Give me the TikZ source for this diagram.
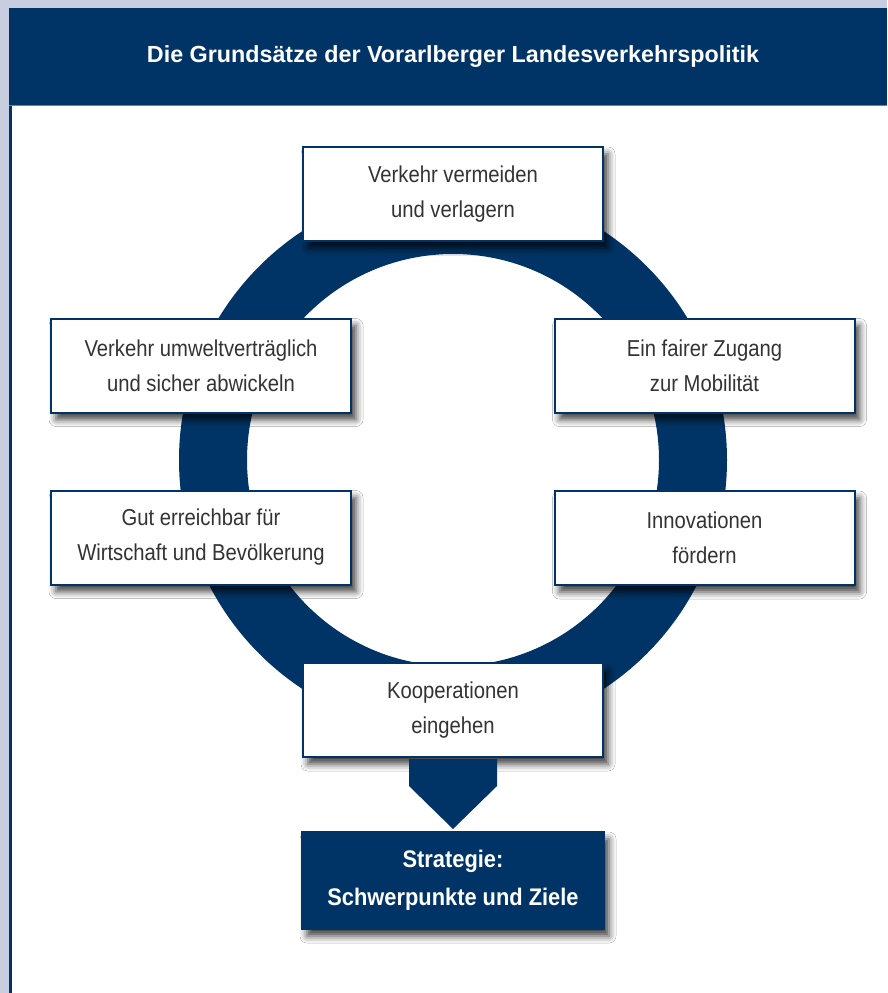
\documentclass[tikz,border=0pt]{standalone}
\usepackage{fontspec}
\setmainfont{Liberation Sans}
\newfontfamily\boxfont{Liberation Sans}[FakeStretch=0.88]
\newfontfamily\stratfont{Liberation Sans}[FakeStretch=0.91]
\usetikzlibrary{shadows.blur,calc}
\definecolor{navy}{RGB}{0,52,102}
\definecolor{frame}{RGB}{200,206,224}
\definecolor{txt}{RGB}{51,51,51}
\tikzset{
  box/.style={draw=navy, line width=2pt, fill=white, minimum width=300pt, minimum height=94pt,
    align=center, text=txt, font=\boxfont\fontsize{23}{35}\selectfont, inner sep=0pt,
    blur shadow={shadow xshift=5pt, shadow yshift=-7pt, shadow blur radius=7pt, shadow opacity=75}},
  darkbox/.style={box, fill=navy, text=white, font=\stratfont\bfseries\fontsize{24}{38}\selectfont, minimum width=302pt, minimum height=97pt},
}
\begin{document}
\begin{tikzpicture}[x=1pt,y=-1pt]
\useasboundingbox (0,0) rectangle (887,993);
\fill[frame] (0,0) rectangle (887,993);
\fill[navy] (9,8) rectangle (887,105);
\fill[white] (9,105) rectangle (887,993);
\fill[navy] (9,105) rectangle (12,993);
\draw[navy!60!white, line width=1pt] (9,105) -- (887,105);
\node[text=white, font=\bfseries\fontsize{23.3}{28}\selectfont] (title) at (453,57) {Die Grundsätze der Vorarlberger Landesverkehrspolitik};

\coordinate (c) at (453,460);
\fill[navy, even odd rule] (c) circle (274pt) (c) circle (206pt);

\node[box] (vermeiden) at (453,194) {Verkehr vermeiden\\und verlagern};
\node[box] (umwelt) at (201,365.5) {Verkehr umweltverträglich\\und sicher abwickeln};
\node[box] (zugang) at (704.5,365.5) {Ein fairer Zugang\\zur Mobilität};
\node[box] (erreichbar) at (201,537.5) {Gut erreichbar für\\Wirtschaft und Bevölkerung};
\node[box] (innovation) at (704.5,538) {Innovationen\\fördern};
\node[box] (koop) at (453,710) {Kooperationen\\eingehen};
\node[darkbox] (strat) at (453,880.5) {Strategie:\\Schwerpunkte und Ziele};

\fill[navy] ($(koop.south)+(-44,1)$) -- ($(koop.south)+(44,1)$) -- ($(koop.south)+(44,28)$)
  -- ($(strat.north)+(0,-2)$) -- ($(koop.south)+(-44,28)$) -- cycle;
\end{tikzpicture}
\end{document}
